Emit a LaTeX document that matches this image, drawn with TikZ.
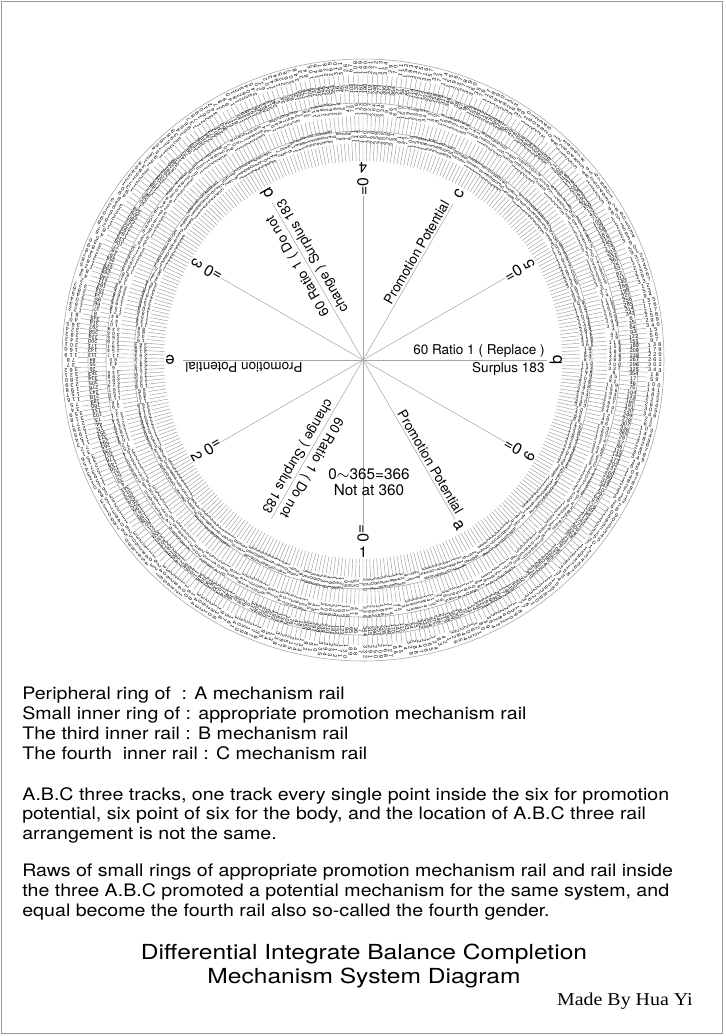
\documentclass[tikz,border=0pt]{standalone}
\usepackage{fontspec}
\setmainfont{TeX Gyre Heros}
\newfontfamily\bodyfont[FakeStretch=1.138]{TeX Gyre Heros}
\newfontfamily\titlefont[FakeStretch=1.185]{TeX Gyre Heros}
\newfontfamily\madefont[FakeStretch=1.1]{Liberation Serif}
\newfontfamily\railwide[LetterSpace=40]{Liberation Sans}
\newfontfamily\railtight{Liberation Sans}
\newcommand{\railA}{\railwide\fontsize{3.1}{3}\selectfont}
\newcommand{\railB}{\railtight\fontsize{3.1}{3}\selectfont}
\newcommand{\railC}{\railwide\fontsize{2.8}{3}\selectfont}
\begin{document}
\begin{tikzpicture}[x=0.02cm, y=0.02cm,
    railtick/.style={gray!80, line width=0.25pt},
    railedge/.style={gray!75, line width=0.3pt},
    spoke/.style={gray!70, line width=0.3pt},
    railnum/.style={inner sep=0pt, text=black},
    spoketext/.style={font=\fontsize{7.7}{9}\selectfont, inner sep=1.2pt},
    marktext/.style={font=\fontsize{8.5}{9}\selectfont, inner sep=0pt},
    bodytext/.style={anchor=north west, align=left, inner sep=0pt, font=\bodyfont\fontsize{9.8}{11.2}\selectfont}]
    \useasboundingbox (0,-1036) rectangle (725,0);
    \draw[gray!80, line width=0.7pt] (1.5,-1.5) rectangle (722.5,-1033.5);

    \begin{scope}[shift={(363,-360)}]
        \coordinate (O) at (0,0);

        \foreach \rail/\rin/\rmid/\rnum/\rwave/\rstep/\rfont/\rout in {
            a/275/285/292/0/41/\railA/301,
            p/257/267/271/0.6/29/\railB/275,
            b/229/244/251/1.5/37/\railC/257,
            c/199/217/223.5/1.5/23/\railC/229} {
            \draw[railedge] (O) circle (\rout);
            \draw[railtick] foreach \i in {0,...,365} {
                ({270-\i*0.98361}:\rin) -- ({270-\i*0.98361}:\rmid)};
            \foreach \i in {0,...,365} {
                \pgfmathsetmacro{\ang}{270-(\i+0.5)*0.98361}
                \pgfmathsetmacro{\rad}{\rnum+\rwave*sin(\i*11)}
                \pgfmathtruncatemacro{\val}{mod(\i*\rstep+7,366)}
                \node[railnum, rotate=\ang, font=\rfont] (\rail\i) at (\ang:\rad) {\val};
            }
        }

        \foreach \ang/\mark in {270/1, 210/2, 150/3, 90/4, 30/5, 330/6} {
            \coordinate (tip\mark) at (\ang:164);
            \draw[spoke] (O) -- (tip\mark);
            \node[marktext, rotate=\ang, anchor=west, font=\fontsize{9}{9}\selectfont] (zero\mark) at (\ang:164) {=0};
            \node[marktext, rotate=\ang+90] (num\mark) at (\ang:192) {\mark};
        }
        \foreach \ang/\mark/\len in {300/a/184, 0/b/184, 60/c/180, 120/d/182, 180/e/180, 240/f/183} {
            \coordinate (end\mark) at (\ang:\len);
            \draw[spoke] (O) -- (end\mark);
        }

        \node[spoketext, rotate=-60, anchor=south east] (textA) at (300:183) {Promotion Potential};
        \node[marktext, rotate=-60, font=\fontsize{9.5}{9}\selectfont] (letterA) at (300:191) {a};

        \node[spoketext, anchor=south east] (textB) at (0:184) {60 Ratio 1 ( Replace )};
        \node[spoketext, anchor=north east] (surplusB) at (0:184) {Surplus 183};
        \node[marktext, rotate=90, font=\fontsize{9.5}{9}\selectfont] (letterB) at (0:193) {b};

        \node[spoketext, rotate=60, anchor=south east] (textC) at (60:181) {Promotion Potential};
        \node[marktext, rotate=60, font=\fontsize{9.5}{9}\selectfont] (letterC) at (60:192) {c};

        \node[spoketext, rotate=120, anchor=south east] (textD) at (120:173) {60 Ratio 1 ( Do not};
        \node[spoketext, rotate=120, anchor=north east] (surplusD) at (120:182) {change ) Surplus 183};
        \node[marktext, rotate=120, font=\fontsize{9.5}{9}\selectfont] (letterD) at (120:192) {d};

        \node[spoketext, rotate=180, anchor=south east] (textE) at (180:180) {Promotion Potential};
        \node[marktext, rotate=180, font=\fontsize{9.5}{9}\selectfont] (letterE) at (180:193) {e};

        \node[spoketext, rotate=240, anchor=south east] (textF) at (240:178) {60 Ratio 1 ( Do not};
        \node[spoketext, rotate=240, anchor=north east] (surplusF) at (240:183) {change ) Surplus 183};

        \node[font=\fontsize{8.7}{9.2}\selectfont, align=center, inner sep=0pt] (span) at (6,-122) {0$\sim$365=366\\Not at 360};
    \end{scope}

    \node[bodytext] (rails) at (22,-687) {Peripheral ring of~ : A mechanism rail\\Small inner ring of : appropriate promotion mechanism rail\\The third inner rail : B mechanism rail\\The fourth~ inner rail : C mechanism rail};
    \node[bodytext] (tracks) at (22,-787) {A.B.C three tracks, one track every single point inside the six for promotion\\potential, six point of six for the body, and the location of A.B.C three rail\\arrangement is not the same.};
    \node[bodytext] (raws) at (22,-864) {Raws of small rings of appropriate promotion mechanism rail and rail inside\\the three A.B.C promoted a potential mechanism for the same system, and\\equal become the fourth rail also so-called the fourth gender.};
    \node[align=center, inner sep=0pt, font=\titlefont\fontsize{11.8}{14.2}\selectfont] (title) at (364,-966) {Differential Integrate Balance Completion\\Mechanism System Diagram};
    \node[anchor=east, inner sep=0pt, font=\madefont\fontsize{10.3}{11}\selectfont] (made) at (693,-1001) {Made By Hua Yi};
\end{tikzpicture}
\end{document}
